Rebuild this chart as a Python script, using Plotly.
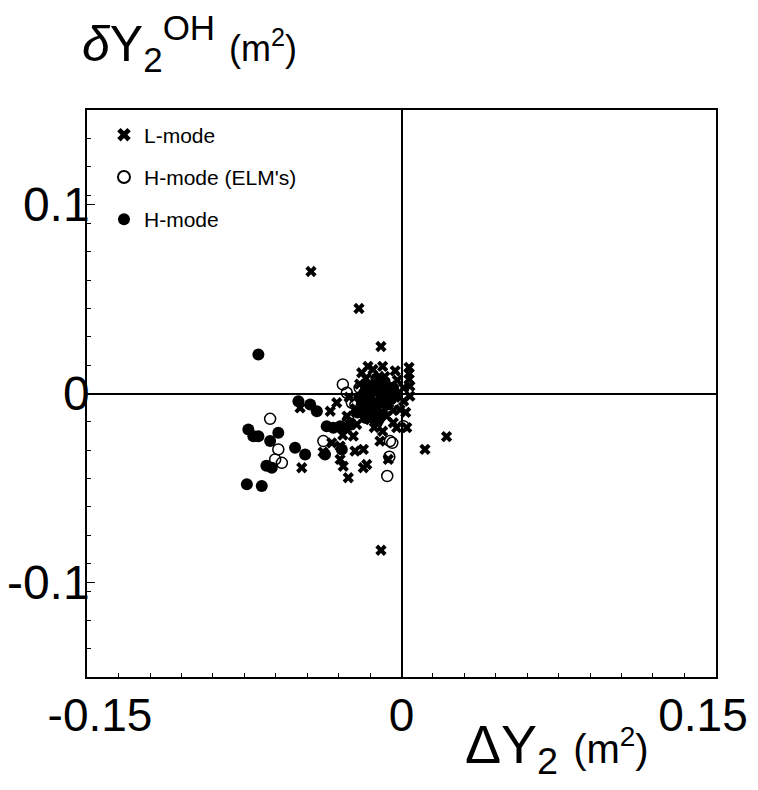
import plotly.graph_objects as go

# L-mode (crosses)
lmode_x = [-0.0432, -0.0203, -0.0098, 0.0215, 0.0112, -0.0098,
           0.0036, 0.0036, 0.0036, -0.016, -0.009, -0.0136,
           0.004, 0.004, -0.0007, 0.0025, -0.0023,
           -0.0476, -0.034, -0.0374, -0.0254, -0.0278, -0.0182, -0.0166, -0.0293,
           -0.0293, -0.0222, -0.0182, -0.0103, -0.0063, -0.0261, -0.023, -0.0214,
           -0.015, -0.0118, -0.0071, -0.0039, -0.0309, -0.0484, -0.0333,
           -0.020, -0.017, -0.012, -0.008, -0.005, -0.002, 0.001, -0.003, -0.006,
           -0.010, -0.014, -0.018, -0.022, -0.016, -0.011, -0.004, 0.001, -0.007,
           -0.019, -0.025, -0.013, -0.009, -0.026, -0.028, 0.002, -0.003]
lmode_y = [0.0646, 0.045, 0.0249, -0.0228, -0.0296, -0.083,
           0.0138, 0.0105, 0.0075, 0.0144, 0.0144, 0.0127,
           0.0039, -0.0014, -0.0085, -0.0181, -0.0181,
           -0.0393, -0.0094, -0.031, -0.0446, -0.0385, -0.0393, -0.0376, -0.0349,
           -0.0279, -0.0305, -0.0296, -0.0252, -0.0349, -0.019, -0.0226, -0.0164,
           -0.0138, -0.0155, -0.012, -0.0155, -0.0049, -0.0076, -0.0261,
           0.005, 0.008, 0.006, 0.009, 0.004, 0.007, 0.003, -0.002, -0.005,
           -0.001, 0.002, -0.004, -0.008, -0.010, -0.008, -0.009, -0.004, 0.000,
           0.011, -0.002, -0.018, -0.020, -0.012, -0.022, -0.010, 0.012]

# H-mode with ELMs (open circles)
helm_x = [-0.028, -0.0261, -0.0237, -0.0627, -0.0588, -0.0603, -0.0571, -0.0373,
          -0.0055, -0.0044, -0.0058, -0.0068, -0.0254, -0.0246, 0.0009,
          -0.020, -0.015, -0.022]
helm_y = [0.0048, 0.0004, -0.0049, -0.0134, -0.0296, -0.0349, -0.0367, -0.0252,
          -0.0252, -0.0261, -0.0335, -0.0437, -0.0138, -0.0164, -0.0173,
          0.003, 0.006, -0.006]

# H-mode (filled circles)
hmode_x = [-0.0683, -0.0492, -0.0436, -0.0404, -0.0731, -0.0707, -0.0683, -0.0588,
           -0.0627, -0.0508, -0.046, -0.0619, -0.0738, -0.0667, -0.0365, -0.0357,
           -0.0325, -0.0293, -0.0285, -0.015, -0.0645,
           -0.018, -0.015, -0.012, -0.016, -0.011, -0.008, -0.014, -0.019, -0.006,
           -0.013, -0.009, -0.017, -0.003, -0.021, -0.024, -0.010,
           -0.020, -0.017, -0.013, -0.010, -0.007, -0.005, -0.015, -0.011, -0.019,
           -0.004, -0.008, -0.012]
hmode_y = [0.0206, -0.0041, -0.0058, -0.0094, -0.019, -0.0226, -0.0226, -0.0208,
           -0.0252, -0.0287, -0.0323, -0.0393, -0.0481, -0.049, -0.0323, -0.0173,
           -0.0181, -0.0173, -0.0296, -0.0067, -0.0383,
           0.000, -0.003, -0.006, 0.004, 0.001, -0.002, -0.009, -0.006, 0.002,
           -0.012, -0.011, -0.013, 0.000, -0.010, -0.016, 0.004,
           -0.002, 0.002, 0.003, -0.004, -0.006, -0.003, -0.007, -0.014, -0.009,
           0.003, 0.006, 0.008]

NB = "\u00a0"
x_ticks = [-0.15, 0, 0.15]
x_labels = [NB * 2 + "-0.15", "0", "0.15" + NB * 2]
y_ticks = [-0.1, 0, 0.1]
y_labels = ["-0.1", "0", "0.1"]

FONT = "Liberation Sans Narrow, Arial Narrow, Liberation Sans, Arial, sans-serif"

fig = go.Figure()
fig.add_trace(go.Scatter(x=lmode_x, y=lmode_y, mode="markers", name="L-mode",
                         legendgroup="a",
                         marker=dict(symbol="x", size=10, color="black",
                                     line=dict(width=0))))
fig.add_trace(go.Scatter(x=helm_x, y=helm_y, mode="markers", name="H-mode (ELM's)",
                         legendgroup="b",
                         marker=dict(symbol="circle-open", size=11, color="black",
                                     line=dict(width=1.5, color="black"))))
fig.add_trace(go.Scatter(x=hmode_x, y=hmode_y, mode="markers", name="H-mode",
                         legendgroup="c",
                         marker=dict(symbol="circle", size=12, color="black")))

axis_common = dict(
    ticks="inside", ticklen=8, tickcolor="black", automargin=False,
    ticklabeloverflow="allow",
    showgrid=False, zeroline=True, zerolinecolor="black", zerolinewidth=1.5,
    showline=True, linecolor="black", linewidth=1.5, mirror=True,
    minor=dict(dtick=0.015, tick0=0, ticks="inside", ticklen=4,
               tickcolor="black", showgrid=False),
)

fig.update_layout(
    width=750, height=782,
    margin=dict(l=79, r=42, t=102, b=113),
    paper_bgcolor="white", plot_bgcolor="white",
    font=dict(family=FONT, color="black"),
    showlegend=True,
    legend=dict(x=0.027, y=0.992, xanchor="left", yanchor="top",
                bgcolor="rgba(0,0,0,0)", font=dict(size=21, family=FONT),
                tracegroupgap=12, itemsizing="constant"),
    xaxis=dict(range=[-0.1501, 0.1501], tickvals=x_ticks, ticktext=x_labels,
               tickfont=dict(size=46, family=FONT), ticklabelstandoff=-3,
               **axis_common),
    yaxis=dict(range=[-0.1501, 0.1501], tickvals=y_ticks, ticktext=y_labels,
               tickfont=dict(size=48, family=FONT), ticklabelstandoff=-14,
               **axis_common),
)

fig.add_annotation(xref="paper", yref="paper", x=(463 - 87) / 629, y=-0.125,
                   xanchor="left", yanchor="middle", showarrow=False,
                   text="ΔY<sub>2</sub> <span style='font-size:40px'>(m<sup>2</sup>)</span>",
                   font=dict(size=54, family=FONT, color="black"))
fig.add_annotation(xref="paper", yref="paper", x=(80 - 87) / 629, y=1.117,
                   xanchor="left", yanchor="middle", showarrow=False,
                   text="<i>δ</i>Y<sub>2</sub><sup>OH</sup> <span style='font-size:36px'>(m<sup>2</sup>)</span>",
                   font=dict(size=50, family=FONT, color="black"))

fig.write_html("out.html")
